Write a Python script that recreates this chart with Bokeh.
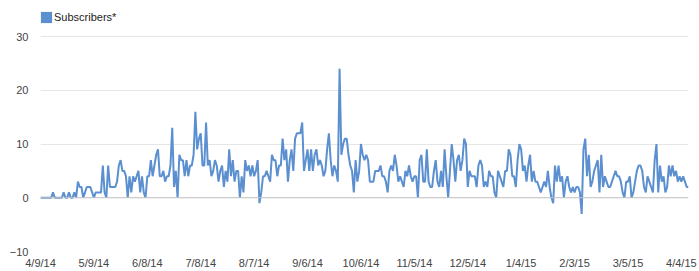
from bokeh.plotting import figure
from bokeh.models import (Range1d, FixedTicker, Span, Legend, LegendItem,
                          ColumnDataSource)
from bokeh.embed import file_html
from bokeh.resources import INLINE

# ---- data (daily net subscribers, 4/9/14 .. 4/8/15) ----
subscribers = [
    0, 0, 0, 0, 0, 0, 0, 1, 0, 0,
    0, 0, 0, 1, 0, 0, 1, 0, 0, 1,
    0, 3, 2, 2, 0, 1, 2, 2, 2, 1,
    0, 1, 1, 1, 1, 6, 1, 0, 6, 2,
    2, 2, 2, 3, 6, 7, 5, 5, 4, 0,
    4, 1, 4, 3, 4, 5, 1, 4, 1, 0,
    4, 4, 7, 4, 6, 8, 9, 4, 4, 5,
    3, 4, 4, 6, 13, 2, 5, 0, 8, 7,
    7, 4, 7, 4, 6, 6, 8, 16, 9, 11,
    12, 6, 6, 14, 6, 7, 4, 5, 7, 6,
    3, 5, 6, 2, 5, 3, 9, 4, 7, 3,
    5, 5, 0, 4, 1, 7, 5, 6, 4, 6,
    4, 5, 7, -1, 1, 4, 4, 5, 4, 3,
    8, 7, 7, 4, 6, 6, 11, 7, 9, 3,
    7, 9, 5, 11, 12, 12, 12, 14, 5, 7,
    9, 5, 9, 5, 8, 9, 6, 7, 6, 4,
    5, 9, 12, 7, 4, 6, 5, 3, 24, 8,
    10, 11, 11, 8, 6, 5, 1, 7, 3, 5,
    10, 8, 7, 8, 7, 3, 3, 3, 5, 5,
    5, 6, 4, 4, 3, 1, 5, 6, 5, 8,
    6, 3, 4, 3, 2, 5, 4, 6, 4, 3,
    4, 4, 0, 7, 8, 3, 3, 9, 3, 2,
    2, 5, 7, 3, 2, 5, 2, 9, 4, 0,
    5, 10, 7, 3, 7, 8, 5, 7, 11, 10,
    2, 5, 4, 4, 4, 2, 6, 7, 6, 2,
    3, 2, 5, 4, 4, 1, 0, 5, 4, 3,
    2, 5, 5, 9, 8, 4, 4, 2, 7, 10,
    9, 5, 6, 3, 6, 8, 3, 5, 3, 3,
    2, 1, 2, 3, 2, 5, 2, 0, -1, 6,
    3, 6, 3, 4, 0, 3, 4, 2, 1, 2,
    1, 2, 2, 1, -3, 9, 11, 4, 8, 2,
    3, 5, 6, 7, 1, 8, 2, 4, 3, 2,
    2, 3, 4, 5, 4, 4, 3, 1, 0, 3,
    3, 4, 0, 1, 3, 5, 6, 6, 5, 2,
    1, 4, 3, 2, 1, 7, 10, 1, 6, 3,
    4, 1, 2, 6, 4, 6, 4, 5, 3, 4,
    3, 4, 3, 2, 2,
]
days = list(range(len(subscribers)))

tick_days = [0, 30, 60, 90, 120, 150, 180, 210, 240, 270, 300, 330, 360]
tick_labels = ["4/9/14", "5/9/14", "6/8/14", "7/8/14", "8/7/14", "9/6/14",
               "10/6/14", "11/5/14", "12/5/14", "1/4/15", "2/3/15", "3/5/15",
               "4/4/15"]
y_ticks = [-10, 0, 10, 20, 30]
series_name = "Subscribers*"

BLUE = "#5b8fd0"
FONT = "Liberation Sans"

# layout: plot area bottom at 251 px, gridline "30" at 36 px, frame reaches top
H, BOTTOM_BORDER, TOP_GRID_PX = 271, 20, 36
px_per_unit = (H - BOTTOM_BORDER - TOP_GRID_PX) / (y_ticks[-1] - y_ticks[0])
y_top = y_ticks[-1] + TOP_GRID_PX / px_per_unit

p = figure(width=699, height=H, output_backend="svg", toolbar_location=None,
           x_range=Range1d(0, len(subscribers) - 1),
           y_range=Range1d(y_ticks[0], y_top),
           min_border_left=40, min_border_right=11, min_border_top=0,
           min_border_bottom=BOTTOM_BORDER)
p.outline_line_color = None
p.background_fill_color = "white"
p.border_fill_color = "white"

src = ColumnDataSource(dict(x=days, y=subscribers))
line = p.line("x", "y", source=src, line_color=BLUE, line_width=2)

# axes
p.xaxis.ticker = FixedTicker(ticks=tick_days)
p.xaxis.major_label_overrides = {d: s for d, s in zip(tick_days, tick_labels)}
p.yaxis.ticker = FixedTicker(ticks=y_ticks)
for ax in (p.xaxis, p.yaxis):
    ax.axis_line_color = None
    ax.major_tick_line_color = None
    ax.minor_tick_line_color = None
    ax.major_tick_out = 0
    ax.major_tick_in = 0
    ax.major_label_text_font = FONT
    ax.major_label_text_font_size = "11px"
    ax.major_label_text_color = "#444444"
p.xaxis.major_label_standoff = 5
p.yaxis.major_label_standoff = 12

p.xgrid.grid_line_color = None
p.ygrid.ticker = FixedTicker(ticks=y_ticks)
p.ygrid.grid_line_color = "#e6e6e6"
p.ygrid.grid_line_width = 1

p.add_layout(Span(location=0, dimension="width", line_color="#c4c4c4",
                  line_width=1))

# legend swatch: a quad glyph with no visible extent, used only for its colour
nan = float("nan")
swatch_src = ColumnDataSource(dict(l=[nan], r=[nan], t=[nan], b=[nan]))
swatch = p.quad(left="l", right="r", top="t", bottom="b", source=swatch_src,
                fill_color=BLUE, line_color=None)
legend = Legend(items=[LegendItem(label=series_name, renderers=[swatch],
                                  index=0)],
                location=(-1, 227), orientation="horizontal",
                padding=0, margin=0, spacing=0,
                glyph_width=14, glyph_height=14, label_height=14,
                label_standoff=1,
                label_text_font=FONT, label_text_font_size="11px",
                label_text_color="#222222",
                border_line_color=None, background_fill_alpha=0)
p.add_layout(legend, "center")

open("out.html", "w").write(file_html(p, INLINE))
